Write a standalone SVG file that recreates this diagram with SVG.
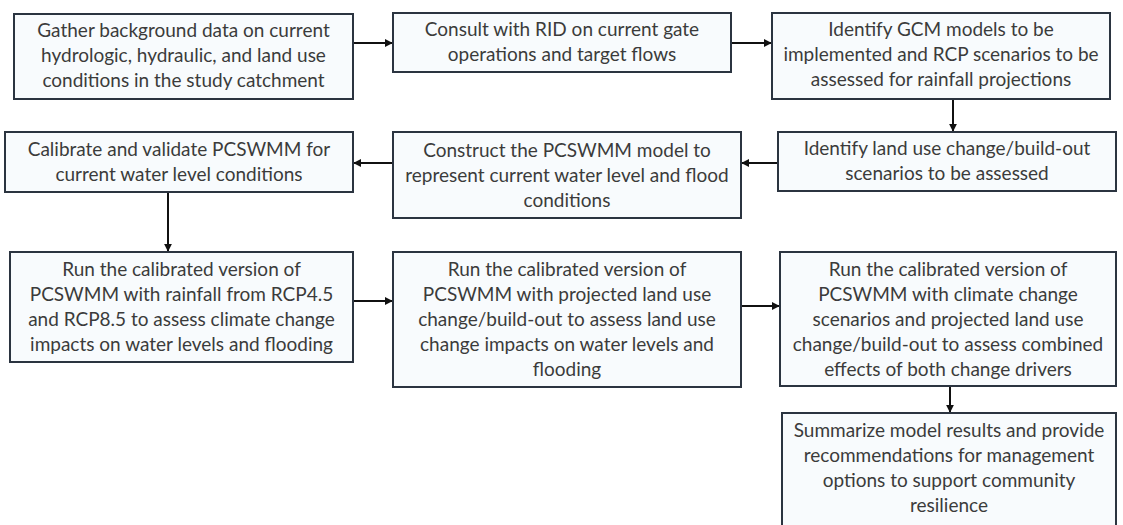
<svg xmlns="http://www.w3.org/2000/svg" width="1123" height="525" viewBox="0 0 1123 525">
<defs>
<style>
.box{fill:#f8fbfd;stroke:#2b3440;stroke-width:2}
.t{font-family:Lato,"Open Sans","Liberation Sans",sans-serif;font-size:19px;fill:#3b3b3b;text-anchor:middle}
.c{stroke:#111;stroke-width:2;fill:none;marker-end:url(#ah)}
</style>
<marker id="ah" viewBox="0 0 10 10" refX="9" refY="5" markerWidth="4" markerHeight="4" orient="auto" markerUnits="strokeWidth">
<path d="M0,0 L10,5 L0,10 z" fill="#111"/>
</marker>
</defs>
<rect width="1123" height="525" fill="#ffffff"/>
<g id="connectors">
<line class="c" x1="353" y1="43" x2="392" y2="43"/>
<line class="c" x1="731" y1="43" x2="771" y2="43"/>
<line class="c" x1="953" y1="99" x2="953" y2="131"/>
<line class="c" x1="778" y1="163" x2="742" y2="163"/>
<line class="c" x1="393" y1="163" x2="354" y2="163"/>
<line class="c" x1="168" y1="192" x2="168" y2="251"/>
<line class="c" x1="353" y1="301" x2="392" y2="301"/>
<line class="c" x1="741" y1="306" x2="779" y2="306"/>
<line class="c" x1="950" y1="386" x2="950" y2="412"/>
</g>
<g id="n1"><rect class="box" x="14" y="14" width="339" height="85"/>
<text class="t" x="183.5" y="37">Gather background data on current</text>
<text class="t" x="183.5" y="62">hydrologic, hydraulic, and land use</text>
<text class="t" x="183.5" y="87">conditions in the study catchment</text></g>
<g id="n2"><rect class="box" x="393" y="13" width="338" height="59"/>
<text class="t" x="562" y="36">Consult with RID on current gate</text>
<text class="t" x="562" y="61">operations and target flows</text></g>
<g id="n3"><rect class="box" x="772" y="13" width="338" height="86"/>
<text class="t" x="941" y="36">Identify GCM models to be</text>
<text class="t" x="941" y="61">implemented and RCP scenarios to be</text>
<text class="t" x="941" y="86">assessed for rainfall projections</text></g>
<g id="n4"><rect class="box" x="5" y="132" width="348" height="60"/>
<text class="t" x="179" y="156">Calibrate and validate PCSWMM for</text>
<text class="t" x="179" y="181">current water level conditions</text></g>
<g id="n5"><rect class="box" x="393" y="132" width="348" height="86"/>
<text class="t" x="567" y="157">Construct the PCSWMM model to</text>
<text class="t" x="567" y="182">represent current water level and flood</text>
<text class="t" x="567" y="207">conditions</text></g>
<g id="n6"><rect class="box" x="778" y="132" width="338" height="59"/>
<text class="t" x="947" y="155">Identify land use change/build-out</text>
<text class="t" x="947" y="180">scenarios to be assessed</text></g>
<g id="n7"><rect class="box" x="10" y="252" width="343" height="110"/>
<text class="t" x="181.5" y="276">Run the calibrated version of</text>
<text class="t" x="181.5" y="301">PCSWMM with rainfall from RCP4.5</text>
<text class="t" x="181.5" y="326">and RCP8.5 to assess climate change</text>
<text class="t" x="181.5" y="351">impacts on water levels and flooding</text></g>
<g id="n8"><rect class="box" x="393" y="252" width="348" height="135"/>
<text class="t" x="567" y="276">Run the calibrated version of</text>
<text class="t" x="567" y="301">PCSWMM with projected land use</text>
<text class="t" x="567" y="326">change/build-out to assess land use</text>
<text class="t" x="567" y="351">change impacts on water levels and</text>
<text class="t" x="567" y="376">flooding</text></g>
<g id="n9"><rect class="box" x="780" y="252" width="336" height="134"/>
<text class="t" x="948" y="276">Run the calibrated version of</text>
<text class="t" x="948" y="301">PCSWMM with climate change</text>
<text class="t" x="948" y="326">scenarios and projected land use</text>
<text class="t" x="948" y="351">change/build-out to assess combined</text>
<text class="t" x="948" y="376">effects of both change drivers</text></g>
<g id="n10"><rect class="box" x="782" y="413" width="334" height="125"/>
<text class="t" x="949" y="437">Summarize model results and provide</text>
<text class="t" x="949" y="462">recommendations for management</text>
<text class="t" x="949" y="487">options to support community</text>
<text class="t" x="949" y="512">resilience</text></g>
</svg>
